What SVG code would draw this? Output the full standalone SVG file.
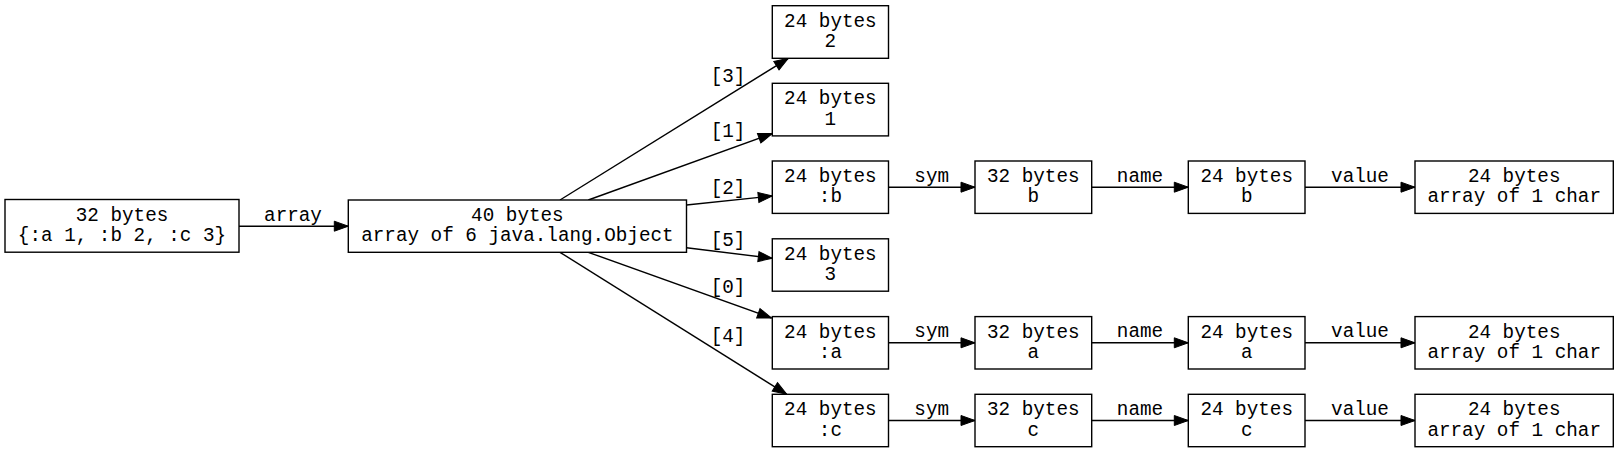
<svg xmlns="http://www.w3.org/2000/svg" width="1619" height="453" viewBox="0 0 1619 453">
<defs>
<style>
rect.n{fill:#fff;stroke:#000;stroke-width:1.4}
text{font-family:"Liberation Mono","Courier New",monospace;font-size:19.3px;fill:#000;text-anchor:middle}
.e path{stroke:#000;stroke-width:1.4;fill:none;marker-end:url(#ah)}
</style>
<marker id="ah" markerUnits="userSpaceOnUse" markerWidth="15" markerHeight="11" refX="14" refY="5" orient="auto" overflow="visible">
<path d="M0,0 L14,5 L0,10 z" fill="#000" stroke="#000" stroke-width="1"/>
</marker>
</defs>
<rect width="1619" height="453" fill="#fff"/>
<g id="edges" class="e">
<path d="M239,226.2 L348.3,226.2"/>
<path d="M560,200 L788.3,58.3"/>
<path d="M588.3,200 L772.3,133.5"/>
<path d="M686.5,205 L772.3,196"/>
<path d="M686.5,247.7 L772.3,258.3"/>
<path d="M588.3,252.3 L771.5,318"/>
<path d="M560,252.3 L786.7,394.3"/>
<path d="M888.5,187.2 L975,187.2"/>
<path d="M1091.7,187.2 L1188.3,187.2"/>
<path d="M1305,187.2 L1415,187.2"/>
<path d="M888.5,342.8 L975,342.8"/>
<path d="M1091.7,342.8 L1188.3,342.8"/>
<path d="M1305,342.8 L1415,342.8"/>
<path d="M888.5,420.5 L975,420.5"/>
<path d="M1091.7,420.5 L1188.3,420.5"/>
<path d="M1305,420.5 L1415,420.5"/>
</g>
<g id="edge-labels">
<text x="293" y="220.5">array</text>
<text x="728" y="81.7">[3]</text>
<text x="728" y="136.7">[1]</text>
<text x="728" y="194.3">[2]</text>
<text x="728" y="246">[5]</text>
<text x="728" y="293.3">[0]</text>
<text x="728" y="341.7">[4]</text>
<text x="931.7" y="181.7">sym</text>
<text x="1140" y="181.7">name</text>
<text x="1360" y="181.7">value</text>
<text x="931.7" y="337.3">sym</text>
<text x="1140" y="337.3">name</text>
<text x="1360" y="337.3">value</text>
<text x="931.7" y="415">sym</text>
<text x="1140" y="415">name</text>
<text x="1360" y="415">value</text>
</g>
<g id="map"><rect class="n" x="5" y="199.5" width="234" height="52.7"/><text x="122" y="221">32 bytes</text><text x="122" y="241.3">{:a 1, :b 2, :c 3}</text></g>
<g id="arr"><rect class="n" x="348.3" y="200" width="338.2" height="52.3"/><text x="517.4" y="221">40 bytes</text><text x="517.4" y="241.3">array of 6 java.lang.Object</text></g>
<g id="long2"><rect class="n" x="772.3" y="5.7" width="116.2" height="52.6"/><text x="830.4" y="26.7">24 bytes</text><text x="830.4" y="47.2">2</text></g>
<g id="long1"><rect class="n" x="772.3" y="83.3" width="116.2" height="52.6"/><text x="830.4" y="104.3">24 bytes</text><text x="830.4" y="124.7">1</text></g>
<g id="kwb"><rect class="n" x="772.3" y="161" width="116.2" height="52.4"/><text x="830.4" y="181.9">24 bytes</text><text x="830.4" y="202.4">:b</text></g>
<g id="long3"><rect class="n" x="772.3" y="238.8" width="116.2" height="52.4"/><text x="830.4" y="259.7">24 bytes</text><text x="830.4" y="280.2">3</text></g>
<g id="kwa"><rect class="n" x="772.3" y="316.6" width="116.2" height="52.4"/><text x="830.4" y="337.5">24 bytes</text><text x="830.4" y="358">:a</text></g>
<g id="kwc"><rect class="n" x="772.3" y="394.3" width="116.2" height="52.4"/><text x="830.4" y="415.2">24 bytes</text><text x="830.4" y="435.7">:c</text></g>
<g id="symb"><rect class="n" x="975" y="161" width="116.7" height="52.4"/><text x="1033.3" y="181.9">32 bytes</text><text x="1033.3" y="202.4">b</text></g>
<g id="syma"><rect class="n" x="975" y="316.6" width="116.7" height="52.4"/><text x="1033.3" y="337.5">32 bytes</text><text x="1033.3" y="358">a</text></g>
<g id="symc"><rect class="n" x="975" y="394.3" width="116.7" height="52.4"/><text x="1033.3" y="415.2">32 bytes</text><text x="1033.3" y="435.7">c</text></g>
<g id="strb"><rect class="n" x="1188.3" y="161" width="116.7" height="52.4"/><text x="1246.7" y="181.9">24 bytes</text><text x="1246.7" y="202.4">b</text></g>
<g id="stra"><rect class="n" x="1188.3" y="316.6" width="116.7" height="52.4"/><text x="1246.7" y="337.5">24 bytes</text><text x="1246.7" y="358">a</text></g>
<g id="strc"><rect class="n" x="1188.3" y="394.3" width="116.7" height="52.4"/><text x="1246.7" y="415.2">24 bytes</text><text x="1246.7" y="435.7">c</text></g>
<g id="chb"><rect class="n" x="1415" y="161" width="198.3" height="52.4"/><text x="1514.2" y="181.9">24 bytes</text><text x="1514.2" y="202.4">array of 1 char</text></g>
<g id="cha"><rect class="n" x="1415" y="316.6" width="198.3" height="52.4"/><text x="1514.2" y="337.5">24 bytes</text><text x="1514.2" y="358">array of 1 char</text></g>
<g id="chc"><rect class="n" x="1415" y="394.3" width="198.3" height="52.4"/><text x="1514.2" y="415.2">24 bytes</text><text x="1514.2" y="435.7">array of 1 char</text></g>
</svg>
